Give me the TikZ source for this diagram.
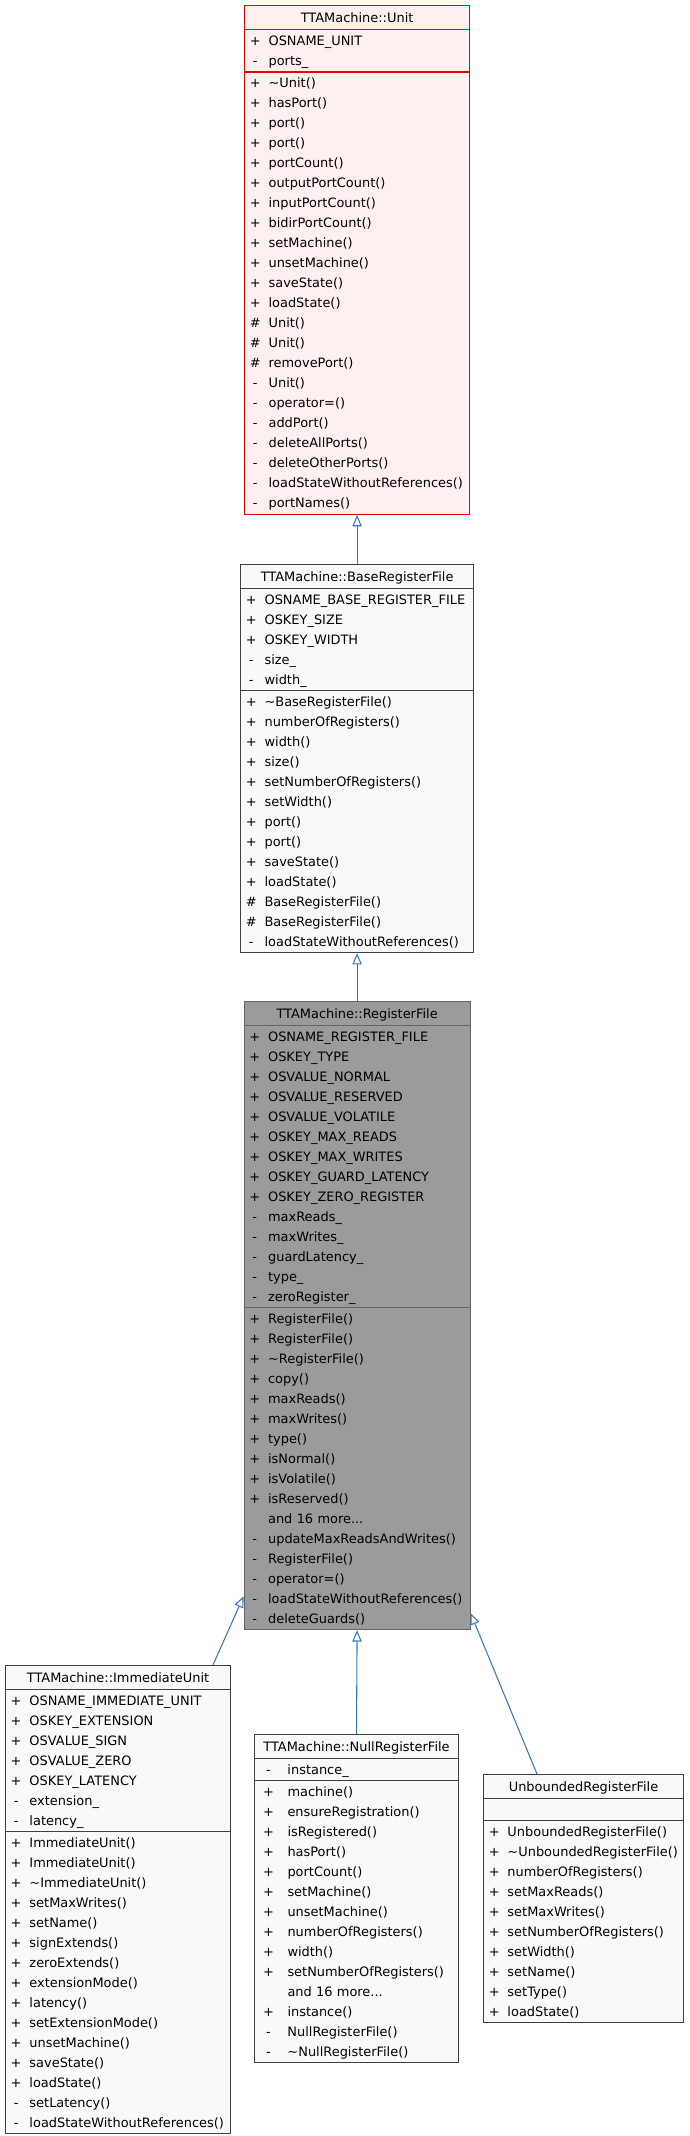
\documentclass[tikz,border=0pt]{standalone}
\usepackage{fontspec}
\setmainfont{DejaVu Sans}
\usepackage{tikz}
\usetikzlibrary{arrows.meta,positioning,shapes.multipart}
\definecolor{unitred}{RGB}{236,0,0}
\definecolor{unitfill}{RGB}{252,240,241}
\definecolor{boxgray}{RGB}{64,64,64}
\definecolor{boxfill}{RGB}{249,250,248}
\definecolor{rfgray}{RGB}{102,102,102}
\definecolor{rffill}{RGB}{155,154,156}
\definecolor{edgeblue}{RGB}{52,120,196}
\newcommand{\rowstrut}{\rule[-4pt]{0pt}{15pt}}
\newcommand{\titlestrut}{\rule[-4.7pt]{0pt}{16.45pt}}
\newcommand{\umltitle}[1]{\makebox[\hsize][c]{#1\titlestrut}}
\newcommand{\umlrow}[2]{\makebox[12pt][c]{#1}\hspace{4pt}#2\rowstrut}
\newcommand{\nullrow}[2]{\makebox[17pt][c]{#1}\hspace{5.75pt}#2\rowstrut}
\tikzset{
  classbox/.style={rectangle split, rectangle split parts=3, draw=boxgray, fill=boxfill,
    line width=0.75pt, inner xsep=2pt, inner ysep=0.4pt, align=left,
    font=\fontsize{9.7pt}{15pt}\selectfont},
  unitbox/.style={classbox, draw=unitred, fill=unitfill, line width=0.9pt},
  rfbox/.style={classbox, draw=rfgray, fill=rffill},
  inherit/.style={draw=edgeblue, line width=0.8pt, -{Triangle[open, length=8.5pt, width=7pt]}}
}
\begin{document}
\begin{tikzpicture}[x=0.75pt, y=-0.75pt]
\useasboundingbox (0,0) rectangle (689,2136);

\node[unitbox, text width=164.75pt, anchor=north west] (unit) at (244,5)
{\umltitle{TTAMachine::Unit}
\nodepart{two}
\umlrow{+}{OSNAME\_UNIT}\\
\umlrow{-}{ports\_}
\nodepart{three}
\umlrow{+}{\textasciitilde Unit()}\\
\umlrow{+}{hasPort()}\\
\umlrow{+}{port()}\\
\umlrow{+}{port()}\\
\umlrow{+}{portCount()}\\
\umlrow{+}{outputPortCount()}\\
\umlrow{+}{inputPortCount()}\\
\umlrow{+}{bidirPortCount()}\\
\umlrow{+}{setMachine()}\\
\umlrow{+}{unsetMachine()}\\
\umlrow{+}{saveState()}\\
\umlrow{+}{loadState()}\\
\umlrow{\#}{Unit()}\\
\umlrow{\#}{Unit()}\\
\umlrow{\#}{removePort()}\\
\umlrow{-}{Unit()}\\
\umlrow{-}{operator=()}\\
\umlrow{-}{addPort()}\\
\umlrow{-}{deleteAllPorts()}\\
\umlrow{-}{deleteOtherPorts()}\\
\umlrow{-}{loadStateWithoutReferences()}\\
\umlrow{-}{portNames()}};

\node[classbox, text width=170.75pt, below=36.75pt of unit] (base)
{\umltitle{TTAMachine::BaseRegisterFile}
\nodepart{two}
\umlrow{+}{OSNAME\_BASE\_REGISTER\_FILE}\\
\umlrow{+}{OSKEY\_SIZE}\\
\umlrow{+}{OSKEY\_WIDTH}\\
\umlrow{-}{size\_}\\
\umlrow{-}{width\_}
\nodepart{three}
\umlrow{+}{\textasciitilde BaseRegisterFile()}\\
\umlrow{+}{numberOfRegisters()}\\
\umlrow{+}{width()}\\
\umlrow{+}{size()}\\
\umlrow{+}{setNumberOfRegisters()}\\
\umlrow{+}{setWidth()}\\
\umlrow{+}{port()}\\
\umlrow{+}{port()}\\
\umlrow{+}{saveState()}\\
\umlrow{+}{loadState()}\\
\umlrow{\#}{BaseRegisterFile()}\\
\umlrow{\#}{BaseRegisterFile()}\\
\umlrow{-}{loadStateWithoutReferences()}};

\node[rfbox, text width=165.5pt, below=36pt of base] (rf)
{\umltitle{TTAMachine::RegisterFile}
\nodepart{two}
\umlrow{+}{OSNAME\_REGISTER\_FILE}\\
\umlrow{+}{OSKEY\_TYPE}\\
\umlrow{+}{OSVALUE\_NORMAL}\\
\umlrow{+}{OSVALUE\_RESERVED}\\
\umlrow{+}{OSVALUE\_VOLATILE}\\
\umlrow{+}{OSKEY\_MAX\_READS}\\
\umlrow{+}{OSKEY\_MAX\_WRITES}\\
\umlrow{+}{OSKEY\_GUARD\_LATENCY}\\
\umlrow{+}{OSKEY\_ZERO\_REGISTER}\\
\umlrow{-}{maxReads\_}\\
\umlrow{-}{maxWrites\_}\\
\umlrow{-}{guardLatency\_}\\
\umlrow{-}{type\_}\\
\umlrow{-}{zeroRegister\_}
\nodepart{three}
\umlrow{+}{RegisterFile()}\\
\umlrow{+}{RegisterFile()}\\
\umlrow{+}{\textasciitilde RegisterFile()}\\
\umlrow{+}{copy()}\\
\umlrow{+}{maxReads()}\\
\umlrow{+}{maxWrites()}\\
\umlrow{+}{type()}\\
\umlrow{+}{isNormal()}\\
\umlrow{+}{isVolatile()}\\
\umlrow{+}{isReserved()}\\
\umlrow{}{and 16 more...}\\
\umlrow{-}{updateMaxReadsAndWrites()}\\
\umlrow{-}{RegisterFile()}\\
\umlrow{-}{operator=()}\\
\umlrow{-}{loadStateWithoutReferences()}\\
\umlrow{-}{deleteGuards()}};

\node[classbox, text width=164.75pt, anchor=north west] (immu) at (5,1665)
{\umltitle{TTAMachine::ImmediateUnit}
\nodepart{two}
\umlrow{+}{OSNAME\_IMMEDIATE\_UNIT}\\
\umlrow{+}{OSKEY\_EXTENSION}\\
\umlrow{+}{OSVALUE\_SIGN}\\
\umlrow{+}{OSVALUE\_ZERO}\\
\umlrow{+}{OSKEY\_LATENCY}\\
\umlrow{-}{extension\_}\\
\umlrow{-}{latency\_}
\nodepart{three}
\umlrow{+}{ImmediateUnit()}\\
\umlrow{+}{ImmediateUnit()}\\
\umlrow{+}{\textasciitilde ImmediateUnit()}\\
\umlrow{+}{setMaxWrites()}\\
\umlrow{+}{setName()}\\
\umlrow{+}{signExtends()}\\
\umlrow{+}{zeroExtends()}\\
\umlrow{+}{extensionMode()}\\
\umlrow{+}{latency()}\\
\umlrow{+}{setExtensionMode()}\\
\umlrow{+}{unsetMachine()}\\
\umlrow{+}{saveState()}\\
\umlrow{+}{loadState()}\\
\umlrow{-}{setLatency()}\\
\umlrow{-}{loadStateWithoutReferences()}};

\node[classbox, text width=149pt, anchor=north west] (nrf) at (254,1734)
{\umltitle{TTAMachine::NullRegisterFile}
\nodepart{two}
\nullrow{-}{instance\_}
\nodepart{three}
\nullrow{+}{machine()}\\
\nullrow{+}{ensureRegistration()}\\
\nullrow{+}{isRegistered()}\\
\nullrow{+}{hasPort()}\\
\nullrow{+}{portCount()}\\
\nullrow{+}{setMachine()}\\
\nullrow{+}{unsetMachine()}\\
\nullrow{+}{numberOfRegisters()}\\
\nullrow{+}{width()}\\
\nullrow{+}{setNumberOfRegisters()}\\
\nullrow{}{and 16 more...}\\
\nullrow{+}{instance()}\\
\nullrow{-}{NullRegisterFile()}\\
\nullrow{-}{\textasciitilde NullRegisterFile()}};

\node[classbox, text width=146pt, anchor=north west] (ubr) at (483,1774)
{\umltitle{UnboundedRegisterFile}
\nodepart{two}
\rowstrut
\nodepart{three}
\umlrow{+}{UnboundedRegisterFile()}\\
\umlrow{+}{\textasciitilde UnboundedRegisterFile()}\\
\umlrow{+}{numberOfRegisters()}\\
\umlrow{+}{setMaxReads()}\\
\umlrow{+}{setMaxWrites()}\\
\umlrow{+}{setNumberOfRegisters()}\\
\umlrow{+}{setWidth()}\\
\umlrow{+}{setName()}\\
\umlrow{+}{setType()}\\
\umlrow{+}{loadState()}};

\draw[inherit] (base.north) -- (unit.south);
\draw[inherit] (rf.north) -- (base.south);
\draw[inherit] ([xshift=-13.5pt]immu.north east) -- ([yshift=25.5pt]rf.south west);
\draw[inherit] (nrf.north) -- (rf.south);
\draw[inherit] ([xshift=40.5pt]ubr.north west) -- ([yshift=12.75pt]rf.south east);
\end{tikzpicture}
\end{document}
